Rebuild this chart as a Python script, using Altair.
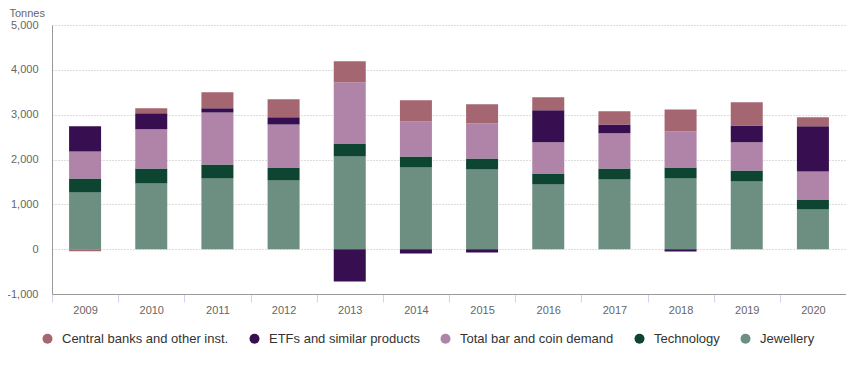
import altair as alt
import pandas as pd

years = ["2009", "2010", "2011", "2012", "2013", "2014", "2015", "2016", "2017", "2018", "2019", "2020"]

jewellery = [1266, 1467, 1578, 1533, 2069, 1824, 1779, 1444, 1556, 1578, 1511, 886]
technology = [312, 334, 313, 291, 290, 245, 246, 246, 245, 246, 246, 223]
bar_coin = [603, 871, 1160, 959, 1362, 781, 781, 692, 782, 803, 625, 625]
etfs = [558, 357, 90, 157, -721, -96, -74, 714, 200, -51, 379, 1005]
central_banks = [-45, 112, 357, 402, 469, 469, 424, 290, 291, 491, 514, 201]

series_names = ["Jewellery", "Technology", "Total bar and coin demand",
                "ETFs and similar products", "Central banks and other inst."]
series_values = [jewellery, technology, bar_coin, etfs, central_banks]

legend_order = ["Central banks and other inst.", "ETFs and similar products",
                "Total bar and coin demand", "Technology", "Jewellery"]
legend_colors = ["#a46670", "#370e4f", "#b083a8", "#0e4432", "#6d8f81"]

y_ticks = [-1000, 0, 1000, 2000, 3000, 4000, 5000]

rows = []
for k, (name, vals) in enumerate(zip(series_names, series_values)):
    for yr, v in zip(years, vals):
        rows.append({"year": yr, "series": name, "value": v, "order": k})
df = pd.DataFrame(rows)

FONT = "Liberation Sans"

base = alt.Chart(df)

bars = base.mark_bar(size=32).encode(
    x=alt.X("year:N", sort=years,
            scale=alt.Scale(paddingInner=0, paddingOuter=0),
            axis=alt.Axis(title=None, labelAngle=0, tickBand="extent",
                          tickColor="#ccd6eb", tickSize=8, domainColor="#999999",
                          labelColor="#666666", labelFontSize=11, labelFont=FONT,
                          labelPadding=2, grid=False)),
    y=alt.Y("value:Q", stack="zero",
            scale=alt.Scale(domain=[-1000, 5000], nice=False),
            axis=alt.Axis(values=y_ticks,
                          labelExpr="datum.value < 0 ? '-' + format(-datum.value, ',.0f') : format(datum.value, ',.0f')",
                          title="Tonnes",
                          titleAngle=0, titleAlign="left", titleBaseline="alphabetic",
                          titleX=-43, titleY=-9, titleFont=FONT, titleFontSize=11,
                          titleFontWeight="normal", titleColor="#666666",
                          labelColor="#666666", labelFontSize=11, labelFont=FONT,
                          labelPadding=14, tickSize=0, ticks=False,
                          domainColor="#999999", grid=True, gridColor="#bbbbbb",
                          gridDash=[1, 2])),
    color=alt.Color("series:N",
                    scale=alt.Scale(domain=legend_order, range=legend_colors),
                    legend=alt.Legend(title=None, orient="none", direction="horizontal",
                                      legendX=-11, legendY=307, padding=0,
                                      symbolType="circle", symbolSize=100,
                                      symbolStrokeWidth=0, labelOffset=8,
                                      columnPadding=19, labelFont=FONT,
                                      labelLimit=400,
                                      labelFontSize=13, labelColor="#333333")),
    order=alt.Order("order:Q"),
)

right_axis = base.mark_point(opacity=0).encode(
    y=alt.Y("value:Q",
            scale=alt.Scale(domain=[-1000, 5000], nice=False),
            axis=alt.Axis(orient="right", labels=False, ticks=False, grid=False,
                          title=None, domainColor="#999999")),
)

chart = alt.layer(bars, right_axis).resolve_axis(y="independent").properties(
    width=794, height=269,
    padding={"left": 44, "top": 17, "right": 0, "bottom": 63},
    autosize=alt.AutoSizeParams(type="none"),
).configure_view(stroke=None)

chart.save("out.html", embed_options={"renderer": "svg", "actions": False})
